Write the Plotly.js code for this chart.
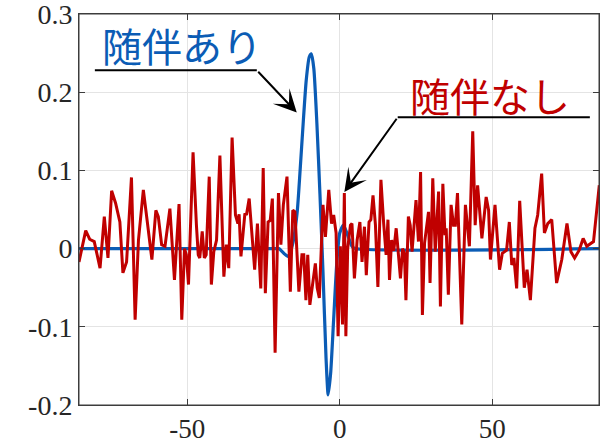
<!DOCTYPE html>
<html>
<head>
<meta charset="utf-8">
<script src="https://cdn.plot.ly/plotly-3.0.1.min.js"></script>
<style>
  html, body { margin: 0; padding: 0; background: #ffffff; }
  #chart { width: 609px; height: 443px; }
</style>
</head>
<body>
<div id="chart"></div>
<script>
// Pulse response (with companion)
const withX = [-85.5, -21, -20, -17, -15.5, -14, -13, -12, -11, -10, -9.3, -8.5, -7.5, -6.5, -5.5, -4.5, -3.8, -3, -2, -1, 0, 1.2, 2.5, 4, 5, 85];
const withY = [0, 0, 0, -0.01, 0.005, 0.045, 0.1, 0.16, 0.215, 0.245, 0.249, 0.23, 0.16, 0.07, -0.03, -0.14, -0.187, -0.16, -0.09, -0.02, 0.02, 0.03, 0.018, 0.003, 0, 0];

// Response without companion
const withoutX = [
  -85.5, -83.3, -82.0, -80.5, -78.6, -77.2, -76.0, -74.8, -73.5, -72.1,
  -71.1, -69.9, -68.3, -67.1, -66.0, -64.4, -63.1, -61.6, -60.3, -59.5,
  -58.4, -57.3, -55.7, -54.2, -52.7, -51.8, -50.9, -50.3, -49.6, -48.1,
  -47.0, -46.4, -45.9, -45.1, -44.4, -43.8, -42.8, -42.1, -41.3, -40.4,
  -39.3, -38.0, -37.2, -36.4, -35.3, -34.2, -33.4, -33.0, -32.4, -31.1,
  -30.6, -29.7, -29.1, -28.4, -27.9, -27.0, -25.9, -25.1, -24.4, -23.5,
  -22.8, -22.1, -21.2, -20.1, -19.3, -18.5, -17.3, -16.2, -15.4, -14.7,
  -14.0, -13.4, -12.4, -11.8, -11.1, -10.5, -9.8, -8.9, -8.0, -7.4,
  -6.7, -5.5, -4.7, -3.6, -2.7, -2.0, -1.2, -0.55, 0.2, 0.9,
  1.5, 2.0, 2.6, 3.5, 4.0, 4.8, 5.7, 6.6, 7.3, 8.1,
  8.7, 9.6, 10.2, 10.9, 11.7, 12.5, 13.5, 14.4, 15.2, 15.8,
  16.3, 17.0, 17.7, 18.5, 19.9, 20.6, 21.2, 21.7, 22.5, 23.1,
  23.7, 25.0, 25.8, 26.5, 27.1, 27.8, 29.1, 29.6, 30.5, 31.3,
  32.4, 33.0, 33.8, 34.5, 34.9, 35.6, 36.5, 37.3, 37.9, 38.6,
  40.0, 41.2, 42.5, 43.6, 44.4, 45.2, 46.6, 48.0, 48.8, 49.4,
  50.9, 52.4, 53.3, 54.7, 55.6, 56.4, 57.1, 58.0, 59.0, 60.5,
  61.4, 62.5, 64.0, 64.9, 66.2, 67.1, 68.2, 69.5, 71.1, 72.8,
  74.5, 75.8, 77.0, 78.5, 79.8, 81.0, 83.2, 85.1
];
const withoutY = [
  -0.017, 0.023, 0.012, 0.009, -0.025, 0.041, -0.012, 0.074, 0.058, 0.034,
  -0.031, -0.017, 0.091, -0.091, 0.011, 0.075, 0.034, -0.014, 0.049, 0.041,
  0.005, 0.003, 0.051, -0.04, 0.057, -0.091, 0.0, -0.008, -0.046, 0.123,
  0.03, -0.008, -0.012, 0.022, -0.012, -0.008, 0.092, -0.046, -0.004, 0.011,
  0.119, -0.036, 0.005, -0.025, 0.142, 0.043, 0.032, 0.044, -0.01, 0.045,
  0.043, 0.064, 0.034, -0.01, -0.027, 0.032, -0.051, 0.103, -0.057, 0.034,
  0.036, 0.064, -0.133, 0.071, 0.005, 0.056, 0.092, -0.055, 0.049, 0.047,
  -0.01, -0.055, -0.008, -0.008, -0.066, -0.008, -0.072, -0.047, -0.019, -0.05,
  -0.063, 0.056, 0.015, 0.075, 0.032, 0.043, 0.02, -0.112, 0.003, -0.097,
  0.071, -0.112, 0.0, 0.03, 0.032, -0.038, 0.011, 0.034, -0.017, 0.028,
  -0.034, 0.034, 0.037, 0.068, 0.03, -0.049, 0.088, 0.032, -0.008, 0.037,
  -0.04, 0.011, -0.003, 0.026, -0.038, 0.0, -0.006, -0.066, 0.041, 0.03,
  -0.004, 0.062, 0.009, 0.098, -0.085, 0.007, 0.047, -0.044, 0.09, -0.004,
  0.073, -0.074, 0.083, 0.017, 0.026, -0.059, 0.056, 0.03, 0.03, 0.071,
  -0.097, 0.056, 0.003, 0.15, 0.03, 0.081, 0.013, 0.066, 0.049, -0.014,
  0.056, -0.027, -0.006, -0.002, 0.034, -0.021, -0.012, -0.051, 0.061, -0.05,
  -0.027, -0.066, 0.026, 0.043, 0.096, 0.02, 0.032, 0.037, -0.044, -0.014,
  0.032, -0.004, -0.012, -0.002, 0.013, 0.003, 0.009, 0.081
];

const xTicks = [-50, 0, 50];
const xTickText = ['-50', '0', '50'];
const yTicks = [-0.2, -0.1, 0, 0.1, 0.2, 0.3];
const yTickText = ['-0.2', '-0.1', '0', '0.1', '0.2', '0.3'];

const labelWith = '随伴あり';
const labelWithout = '随伴なし';

const BLUE = '#0b5cb5';
const RED = '#c00000';
const FRAME = '#3c3c3c';
const SERIF = 'Liberation Serif';
const CJK = 'Noto Sans CJK JP';

const traces = [
  {
    x: withX, y: withY, type: 'scatter', mode: 'lines',
    line: { color: BLUE, width: 3.2, shape: 'spline', smoothing: 0.6 },
    hoverinfo: 'skip'
  },
  {
    x: withoutX, y: withoutY, type: 'scatter', mode: 'lines',
    line: { color: RED, width: 3 },
    hoverinfo: 'skip'
  }
];

const axisCommon = {
  showline: true, linecolor: FRAME, linewidth: 1,
  mirror: 'ticks', ticks: 'inside', ticklen: 6, tickwidth: 1, tickcolor: FRAME,
  showgrid: true, gridcolor: '#e4e4e4', gridwidth: 1,
  zeroline: false,
  ticklabeloverflow: 'allow'
};

const layout = {
  width: 609, height: 443,
  margin: { l: 79, r: 10, t: 14, b: 38 },
  paper_bgcolor: '#ffffff', plot_bgcolor: '#ffffff',
  showlegend: false,
  xaxis: Object.assign({}, axisCommon, {
    range: [-85.5, 85], tickvals: xTicks, ticktext: xTickText,
    tickfont: { family: SERIF, size: 27, color: '#262626' }
  }),
  yaxis: Object.assign({}, axisCommon, {
    range: [-0.2, 0.3], tickvals: yTicks, ticktext: yTickText,
    tickfont: { family: SERIF, size: 28, color: '#262626' }
  }),
  shapes: [
    // plot frame
    { type: 'rect', xref: 'paper', yref: 'paper', x0: 0, y0: 0, x1: 1, y1: 1,
      line: { color: FRAME, width: 1 }, layer: 'above' },
    // leader lines of the two callouts
    { type: 'line', xref: 'x', yref: 'y', x0: -80.3, y0: 0.228, x1: -27.2, y1: 0.228,
      line: { color: '#000000', width: 2 } },
    { type: 'line', xref: 'x', yref: 'y', x0: 82, y0: 0.168, x1: 19.0, y1: 0.168,
      line: { color: '#000000', width: 2 } }
  ],
  annotations: [
    { x: -51.8, y: 0.26, xref: 'x', yref: 'y', text: labelWith, showarrow: false,
      font: { family: CJK, size: 40, color: BLUE } },
    { x: 49.2, y: 0.196, xref: 'x', yref: 'y', text: labelWithout, showarrow: false,
      font: { family: CJK, size: 40, color: RED } },
    { x: -14.1, y: 0.174, ax: -27.2, ay: 0.228, xref: 'x', yref: 'y', axref: 'x', ayref: 'y',
      text: '', showarrow: true, arrowhead: 3, arrowsize: 1.9, arrowwidth: 2, arrowcolor: '#000000' },
    { x: 1.5, y: 0.0724, ax: 19.0, ay: 0.168, xref: 'x', yref: 'y', axref: 'x', ayref: 'y',
      text: '', showarrow: true, arrowhead: 3, arrowsize: 1.9, arrowwidth: 2, arrowcolor: '#000000' }
  ]
};

Plotly.newPlot('chart', traces, layout, { staticPlot: true, displayModeBar: false });
</script>
</body>
</html>
